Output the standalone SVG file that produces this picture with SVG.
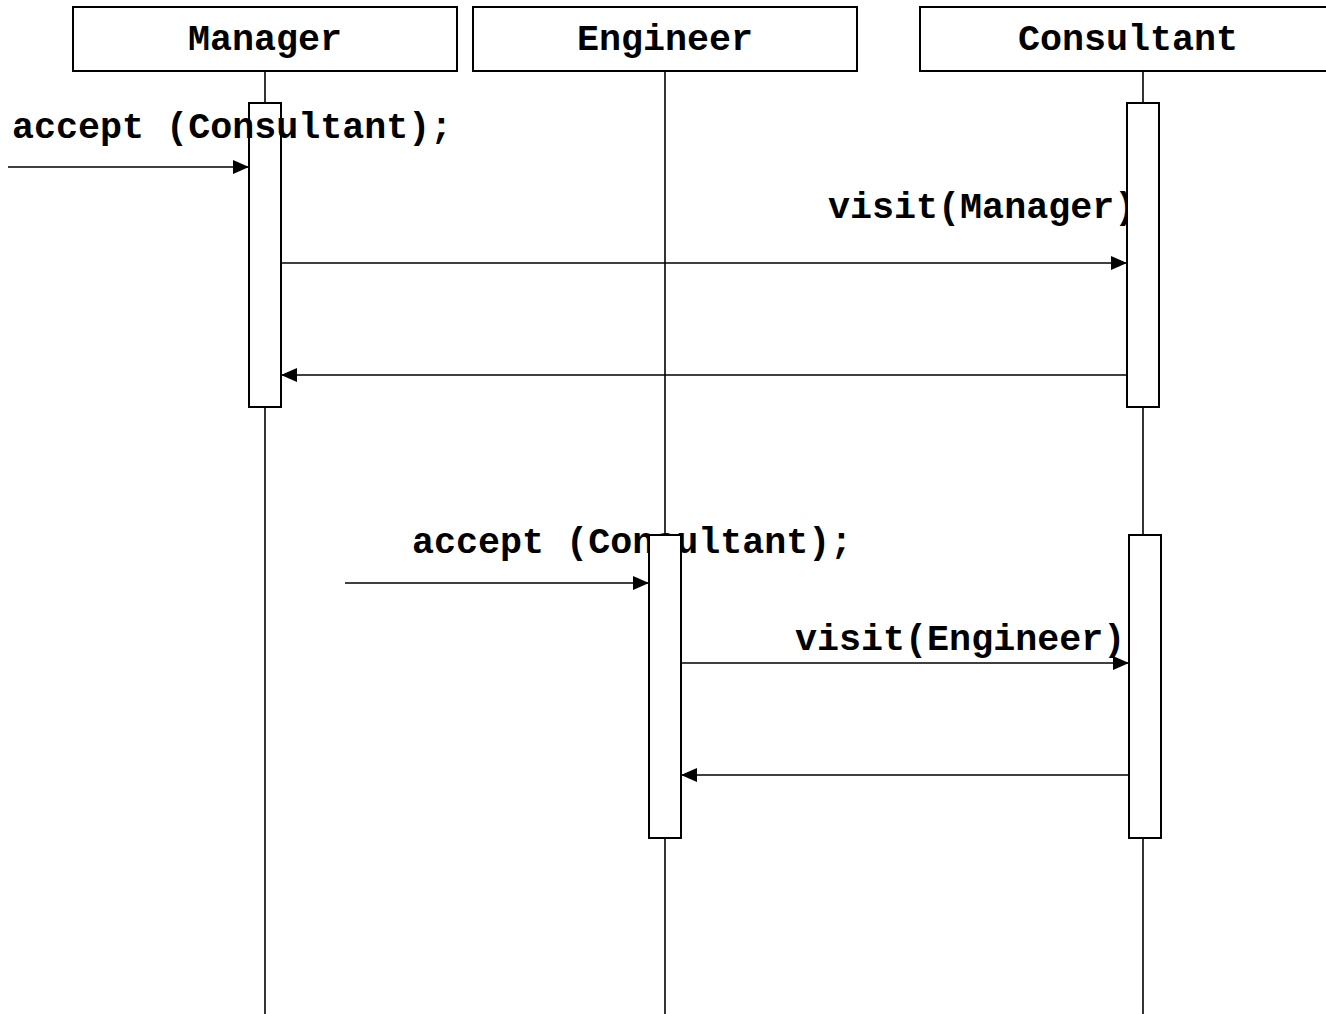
<svg xmlns="http://www.w3.org/2000/svg" width="1326" height="1014" viewBox="0 0 1326 1014">
<style>
.box{fill:#fff;stroke:#000;stroke-width:2}
.life{stroke:#000;stroke-width:1.6;fill:none}
.msg{stroke:#000;stroke-width:1.6;fill:none;marker-end:url(#ah)}
.t{font-family:"Liberation Mono","Courier New",monospace;font-weight:bold;font-size:36.7px;fill:#000}
</style>
<defs>
<marker id="ah" viewBox="0 0 16 14" refX="16" refY="7" markerWidth="16" markerHeight="14" markerUnits="userSpaceOnUse" orient="auto">
<path d="M0,0 L16,7 L0,14 Z" fill="#000"/>
</marker>
</defs>
<rect width="1326" height="1014" fill="#fff"/>
<g id="manager">
<line class="life" x1="265" y1="71" x2="265" y2="1014"/>
<rect class="box" x="73" y="7" width="384" height="64"/>
<text class="t" x="265" y="50" text-anchor="middle">Manager</text>
</g>
<g id="engineer">
<line class="life" x1="665" y1="71" x2="665" y2="1014"/>
<rect class="box" x="473" y="7" width="384" height="64"/>
<text class="t" x="665" y="50" text-anchor="middle">Engineer</text>
</g>
<g id="consultant">
<line class="life" x1="1143" y1="71" x2="1143" y2="1014"/>
<rect class="box" x="920" y="7" width="416" height="64"/>
<text class="t" x="1128" y="50" text-anchor="middle">Consultant</text>
</g>
<g id="labels">
<text class="t" x="828" y="218">visit(Manager)</text>
<text class="t" x="412" y="553">accept (Consultant);</text>
<text class="t" x="795" y="650">visit(Engineer)</text>
</g>
<g id="connectors">
<line class="msg" x1="8" y1="167" x2="249" y2="167"/>
<line class="msg" x1="281" y1="263" x2="1127" y2="263"/>
<line class="msg" x1="1127" y1="375" x2="281" y2="375"/>
<line class="msg" x1="345" y1="583" x2="649" y2="583"/>
<line class="msg" x1="681" y1="663" x2="1129" y2="663"/>
<line class="msg" x1="1129" y1="775" x2="681" y2="775"/>
</g>
<g id="activations">
<rect id="act-manager" class="box" x="249" y="103" width="32" height="304"/>
<rect id="act-consultant-1" class="box" x="1127" y="103" width="32" height="304"/>
<rect id="act-engineer" class="box" x="649" y="535" width="32" height="303"/>
<rect id="act-consultant-2" class="box" x="1129" y="535" width="32" height="303"/>
</g>
<g id="label-top">
<text class="t" x="12" y="138">accept (Consultant);</text>
</g>
</svg>
